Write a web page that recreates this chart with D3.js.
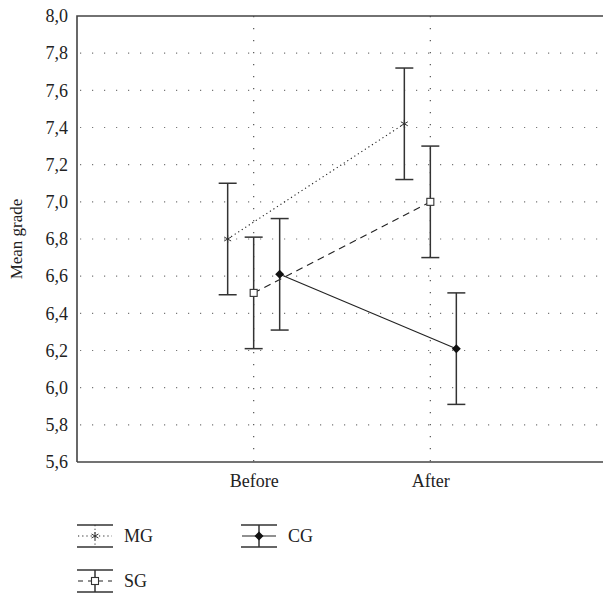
<!DOCTYPE html>
<html><head><meta charset="utf-8">
<script src="https://cdn.jsdelivr.net/npm/d3@7"></script>
<style>body{margin:0;background:#fff}svg{display:block}svg text{font-family:"Liberation Serif","DejaVu Serif",serif !important;fill:#222}</style>
</head><body>
<div id="chart"></div>
<script>
const categories = ["Before", "After"];
const groups = ["MG", "SG", "CG"];
const meanMG = [6.80, 7.42];
const lowMG = [6.50, 7.12];
const highMG = [7.10, 7.72];
const meanSG = [6.51, 7.00];
const lowSG = [6.21, 6.70];
const highSG = [6.81, 7.30];
const meanCG = [6.61, 6.21];
const lowCG = [6.31, 5.91];
const highCG = [6.91, 6.51];
const yTicks = [5.6, 5.8, 6.0, 6.2, 6.4, 6.6, 6.8, 7.0, 7.2, 7.4, 7.6, 7.8, 8.0];

const W = 603, H = 593;
const m = {l: 77, t: 16, r: 607, b: 462};
const svg = d3.select("#chart").append("svg").attr("width", W).attr("height", H);

const x = d3.scalePoint().domain(categories).range([m.l, m.r]).padding(1);
const y = d3.scaleLinear().domain([5.6, 8.0]).range([m.b, m.t]);
const off = d3.scalePoint().domain(groups).range([-26, 26]);

const dark = "#333";
const FS = "18px";
// grid
const g = svg.append("g");
g.selectAll("line.hg").data(yTicks.slice(1, -1)).join("line")
  .attr("x1", m.l).attr("x2", m.r).attr("y1", d => y(d)).attr("y2", d => y(d))
  .attr("stroke", "#777").attr("stroke-width", 1.2).attr("stroke-dasharray", "1.2,10.8").attr("stroke-dashoffset", -3);
g.selectAll("line.vg").data(categories).join("line")
  .attr("x1", d => x(d)).attr("x2", d => x(d)).attr("y1", m.t).attr("y2", m.b)
  .attr("stroke", "#555").attr("stroke-width", 1.2).attr("stroke-dasharray", "1.2,10.8");

// axes
const yAxis = d3.axisLeft(y).tickValues(yTicks).tickSize(0).tickPadding(9)
  .tickFormat(d => d3.format(".1f")(d).replace(".", ","));
const ya = svg.append("g").attr("transform", `translate(${m.l},0)`).call(yAxis);
ya.attr("font-size", null).attr("font-family", null);
ya.select(".domain").remove();
ya.selectAll("text").style("font-size", FS).attr("fill", "#222");
const xAxis = d3.axisBottom(x).tickSize(0).tickPadding(12);
const xa = svg.append("g").attr("transform", `translate(0,${m.b})`).call(xAxis);
xa.attr("font-size", null).attr("font-family", null);
xa.select(".domain").remove();
xa.selectAll("text").style("font-size", FS).attr("fill", "#222");

// frame
svg.append("path").attr("d", `M${m.l},${m.b}V${m.t}H${m.r}`).attr("fill", "none").attr("stroke", "#444").attr("stroke-width", 1.6);
svg.append("line").attr("x1", m.l).attr("x2", m.r).attr("y1", m.b).attr("y2", m.b).attr("stroke", "#444").attr("stroke-width", 1.6);

svg.append("text").attr("transform", `translate(22,${(m.t + m.b) / 2}) rotate(-90)`)
  .attr("text-anchor", "middle").style("font-size", "17px").text("Mean grade");

const series = [
  {name: "MG", mean: meanMG, low: lowMG, high: highMG, dash: "1.2,3"},
  {name: "SG", mean: meanSG, low: lowSG, high: highSG, dash: "7,5"},
  {name: "CG", mean: meanCG, low: lowCG, high: highCG, dash: null}
];
const cap = 9;

function marker(sel, name, cx, cy) {
  if (name === "MG") {
    const r = 4;
    [0, 60, 120].forEach(a => {
      const rad = a * Math.PI / 180;
      sel.append("line").attr("x1", cx - r * Math.sin(rad)).attr("y1", cy - r * Math.cos(rad))
        .attr("x2", cx + r * Math.sin(rad)).attr("y2", cy + r * Math.cos(rad))
        .attr("stroke", dark).attr("stroke-width", 1);
    });
  } else if (name === "SG") {
    sel.append("rect").attr("x", cx - 3.5).attr("y", cy - 3.5).attr("width", 7).attr("height", 7)
      .attr("fill", "#fff").attr("stroke", dark).attr("stroke-width", 1.1);
  } else {
    const r = 4.5;
    sel.append("path").attr("d", `M${cx},${cy - r}L${cx + r},${cy}L${cx},${cy + r}L${cx - r},${cy}Z`).attr("fill", "#111");
  }
}

series.forEach(s => {
  const gs = svg.append("g");
  const pts = categories.map((c, i) => [x(c) + off(s.name), y(s.mean[i])]);
  gs.append("path").attr("d", d3.line()(pts)).attr("fill", "none").attr("stroke", "#222")
    .attr("stroke-width", 1.1).attr("stroke-dasharray", s.dash);
  categories.forEach((c, i) => {
    const cx = x(c) + off(s.name);
    gs.append("line").attr("x1", cx).attr("x2", cx).attr("y1", y(s.low[i])).attr("y2", y(s.high[i]))
      .attr("stroke", dark).attr("stroke-width", 1.5);
    [s.low[i], s.high[i]].forEach(v => gs.append("line").attr("x1", cx - cap).attr("x2", cx + cap)
      .attr("y1", y(v)).attr("y2", y(v)).attr("stroke", dark).attr("stroke-width", 1.5));
    marker(gs, s.name, cx, y(s.mean[i]));
  });
});

// legend
const legendPos = {MG: [95, 536], CG: [259, 536], SG: [95, 581]};
series.forEach(s => {
  const [cx, cy] = legendPos[s.name];
  const lg = svg.append("g");
  lg.append("line").attr("x1", cx - 18).attr("x2", cx + 18).attr("y1", cy - 11).attr("y2", cy - 11).attr("stroke", dark).attr("stroke-width", 1.5);
  lg.append("line").attr("x1", cx - 18).attr("x2", cx + 18).attr("y1", cy + 11).attr("y2", cy + 11).attr("stroke", dark).attr("stroke-width", 1.5);
  lg.append("line").attr("x1", cx).attr("x2", cx).attr("y1", cy - 11).attr("y2", cy + 11).attr("stroke", dark)
    .attr("stroke-width", s.name === "MG" ? 1 : 1.5).attr("stroke-dasharray", s.name === "MG" ? "1.2,2.5" : null);
  lg.append("line").attr("x1", cx - 17).attr("x2", cx + 17).attr("y1", cy).attr("y2", cy).attr("stroke", "#222")
    .attr("stroke-width", 1.1).attr("stroke-dasharray", s.name === "MG" ? "1.2,3" : s.name === "SG" ? "5,5" : null);
  marker(lg, s.name, cx, cy);
  lg.append("text").attr("x", cx + 29).attr("y", cy + 6).style("font-size", FS).text(s.name);
});
</script>
</body></html>
